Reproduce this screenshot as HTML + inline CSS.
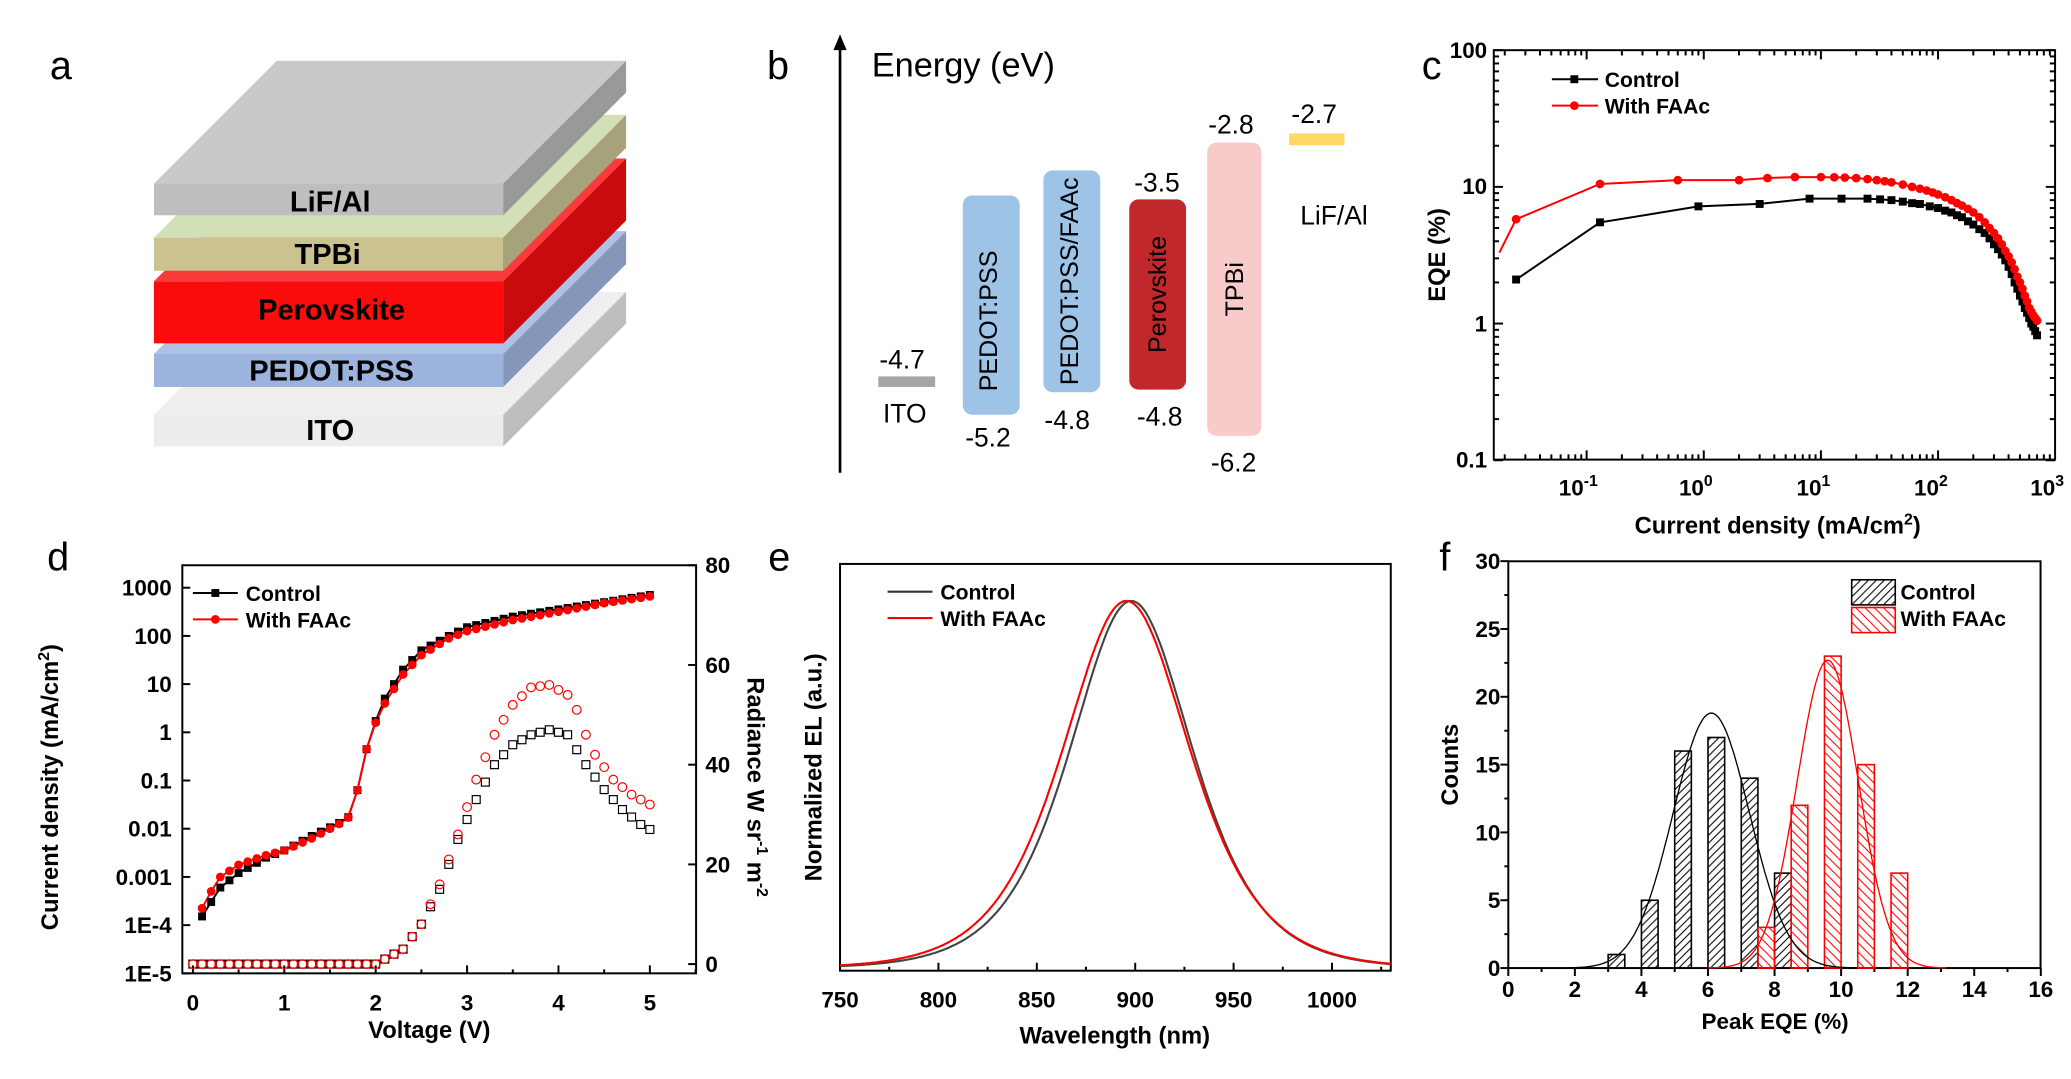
<!DOCTYPE html>
<html><head><meta charset="utf-8"><style>
html,body{margin:0;padding:0;background:#fff;width:2071px;height:1079px;overflow:hidden}
svg{display:block}
text{font-family:"Liberation Sans",Arial,sans-serif}
</style></head><body>
<svg id="s" width="2071" height="1079" viewBox="0 0 1568 817" xmlns="http://www.w3.org/2000/svg">
<defs>
<pattern id="hk" width="6" height="6" patternUnits="userSpaceOnUse"><path d="M-1,7 L7,-1 M-1,1 L1,-1 M5,7 L7,5" stroke="#000" stroke-width="0.8"/></pattern>
<pattern id="hr" width="7" height="7" patternUnits="userSpaceOnUse"><path d="M-1,-1 L8,8 M-1,6 L1,8 M6,-1 L8,1" stroke="#f00" stroke-width="0.8"/></pattern>
</defs>
<g id="g"></g>
</svg>
<script>
var S=document.getElementById('g'),out='';
function a(s){out+=s;}
function t(x,y,s,sz,opt){opt=opt||{};a('<text x="'+x+'" y="'+y+'" font-size="'+sz+'" text-anchor="'+(opt.anc||'middle')+'"'+(opt.b?' font-weight="bold"':'')+(opt.fill?' fill="'+opt.fill+'"':'')+(opt.tr?' transform="'+opt.tr+'"':'')+'>'+s+'</text>');}
function L(x1,y1,x2,y2,c,w){a('<line x1="'+x1+'" y1="'+y1+'" x2="'+x2+'" y2="'+y2+'" stroke="'+(c||'#000')+'" stroke-width="'+(w||1.5)+'"/>');}
function R(x,y,w,h,f,st,rx){a('<rect x="'+x+'" y="'+y+'" width="'+w+'" height="'+h+'" fill="'+f+'"'+(st?' stroke="'+st+'" stroke-width="1.2"':'')+(rx?' rx="'+rx+'"':'')+'/>');}
function P(pts,f,st){a('<polygon points="'+pts.map(p=>p.join(',')).join(' ')+'" fill="'+f+'"'+(st?' stroke="'+st+'"':'')+'/>');}
function PL(pts,c,w){a('<polyline points="'+pts.map(p=>p[0].toFixed(1)+','+p[1].toFixed(1)).join(' ')+'" fill="none" stroke="'+c+'" stroke-width="'+(w||1.5)+'"/>');}
// panel letters
t(46,60,'a',30);t(589,60,'b',30);t(1084,60,'c',30);t(44,432,'d',30);t(590,432,'e',30);t(1094,432,'f',30);
// ---- panel a
var dx=93,dy=-93;
function slab(yt,yb,top,front,side){
 P([[116.5,yt],[381,yt],[381+dx,yt+dy],[116.5+dx,yt+dy]],top);
 R(116.5,yt,264.5,yb-yt,front);
 P([[381,yt],[381+dx,yt+dy],[381+dx,yb+dy],[381,yb]],side);
}
slab(314,338,'#efefef','#ececec','#bebebe');
slab(268,293,'#aec1e5','#9cb3de','#8497bb');
slab(213,260,'#f83a3a','#fa0c0c','#c80c0c');
slab(180,205,'#d3dfb6','#cbc28f','#a8a27a');
slab(139,163,'#c9c9c9','#bebebe','#999999');
t(250,160,'LiF/Al',22,{b:1});t(248,200,'TPBi',22,{b:1});t(251,242,'Perovskite',22,{b:1});t(251,288,'PEDOT:PSS',22,{b:1});t(250,333,'ITO',22,{b:1});
// ---- panel b
L(636,358,636,34,'#000',2);P([[631,38],[636,26],[641,38]],'#000');
t(660,58,'Energy (eV)',26,{anc:'start'});
R(665,285,43,8,'#a6a6a6');t(683,279,'-4.7',20);t(685,320,'ITO',20);
R(729,148,43,166,'#9dc3e6',0,7);t(755,243,'PEDOT:PSS',19,{tr:'rotate(-90 755 243)'});t(748,338,'-5.2',20);
R(790,129,43,168,'#9dc3e6',0,7);t(816,213,'PEDOT:PSS/FAAc',19,{tr:'rotate(-90 816 213)'});t(808,325,'-4.8',20);
R(855,151,43,144,'#c0282c',0,7);t(883,223,'Perovskite',19,{tr:'rotate(-90 883 223)'});t(876,145,'-3.5',20);t(878,322,'-4.8',20);
R(914,108,41,222,'#f9caca',0,7);t(941,219,'TPBi',19,{tr:'rotate(-90 941 219)'});t(932,101,'-2.8',20);t(934,357,'-6.2',20);
R(976,101,42,9,'#ffd966');t(995,93,'-2.7',20);t(1010,170,'LiF/Al',20);
// ---- panel c
(function(){
var x0=1131,x1=1556,y0=38,y1=348;
var X=v=>1290+Math.log10(v)*88.7,Y=v=>245-Math.log10(v)*103.5;
for(var e=-2;e<=3;e++){for(var m=1;m<10;m++){var xx=X(m*Math.pow(10,e));if(xx<x0||xx>x1)continue;L(xx,y1,xx,y1-(m==1?7:4));L(xx,y0,xx,y0+(m==1?7:4));}}
for(var e=-1;e<=2;e++){for(var m=1;m<10;m++){var yy=Y(m*Math.pow(10,e));if(yy<y0-0.5)continue;L(x0,yy,x0+(m==1?7:4),yy);L(x1,yy,x1-(m==1?7:4),yy);}}
a('<rect x="'+x0+'" y="'+y0+'" width="'+(x1-x0)+'" height="'+(y1-y0)+'" fill="none" stroke="#000" stroke-width="1.5"/>');
[['0.1',348],['1',245],['10',141],['100',38]].forEach(p=>t(1126,p[1]+6,p[0],17,{anc:'end',b:1}));
[[-1,1201],[0,1290],[1,1379],[2,1468],[3,1556]].forEach(p=>{a('<text x="'+(p[1]-6)+'" y="375" font-size="17" text-anchor="middle" font-weight="bold">10<tspan dy="-7" font-size="12">'+p[0]+'</tspan></text>');});
a('<text x="1346" y="404" font-size="18" font-weight="bold" text-anchor="middle">Current density (mA/cm<tspan dy="-7" font-size="12">2</tspan><tspan dy="7">)</tspan></text>');
t(1094,193,'EQE (%)',18,{b:1,tr:'rotate(-90 1094 193)'});
var c=[[0.025,2.1],[0.13,5.5],[0.9,7.2],[3,7.5],[8,8.2],[15,8.2],[25,8.2],[32,8.1],[40,8.0],[50,7.8],[60,7.6],[70,7.5],[85,7.2],[100,7.0],[115,6.7],[130,6.5],[145,6.2],[160,6],[180,5.6],[200,5.3],[225,4.9],[250,4.6],[275,4.2],[300,3.8],[325,3.5],[350,3.2],[375,2.9],[400,2.6],[425,2.3],[450,2.0],[475,1.8],[500,1.6],[525,1.45],[550,1.3],[575,1.2],[600,1.1],[625,1.0],[650,0.95],[675,0.88],[700,0.82]];
var f=[[0.018,3.3],[0.025,5.8],[0.13,10.5],[0.6,11.2],[2,11.2],[3.5,11.6],[6,11.8],[10,11.8],[13,11.75],[16,11.7],[20,11.6],[25,11.4],[30,11.2],[35,11.0],[40,10.8],[50,10.4],[60,10],[70,9.7],[80,9.4],[90,9.1],[100,8.8],[115,8.4],[130,8],[145,7.6],[160,7.3],[180,6.9],[200,6.5],[225,6.0],[250,5.5],[275,5.0],[300,4.6],[325,4.2],[350,3.8],[375,3.4],[400,3.1],[425,2.8],[450,2.5],[475,2.2],[500,2.0],[525,1.8],[550,1.6],[575,1.45],[600,1.3],[625,1.22],[650,1.15],[675,1.1],[700,1.05]];
PL(c.map(p=>[X(p[0]),Y(p[1])]),'#000');c.forEach(p=>R(X(p[0])-3,Y(p[1])-3,6,6,'#000'));
PL(f.map(p=>[X(p[0]),Y(p[1])]),'#f00');f.slice(1).forEach(p=>a('<circle cx="'+X(p[0])+'" cy="'+Y(p[1])+'" r="3.3" fill="#f00"/>'));
L(1175,60,1210,60);R(1189,57,6,6,'#000');t(1215,66,'Control',16,{anc:'start',b:1});
L(1175,80,1210,80,'#f00');a('<circle cx="1192" cy="80" r="3.3" fill="#f00"/>');t(1215,86,'With FAAc',16,{anc:'start',b:1});
})();
// ---- panel d
(function(){
var x0=138,x1=527,y0=428,y1=737;
var X=v=>146+v*69.2,YR=r=>730-r*3.775;
a('<rect x="'+x0+'" y="'+y0+'" width="'+(x1-x0)+'" height="'+(y1-y0)+'" fill="none" stroke="#000" stroke-width="1.5"/>');
var lab=['1E-5','1E-4','0.001','0.01','0.1','1','10','100','1000'];
for(var i=0;i<9;i++){var yy=737-i*36.5;L(x0,yy,x0+6,yy);t(130,yy+6,lab[i],17,{anc:'end',b:1});}
for(var v=0;v<=5;v++){L(X(v),y1,X(v),y1-6);L(X(v+0.5),y1,X(v+0.5),y1-3);t(X(v),765,v,17,{b:1});}
for(var r=0;r<=80;r+=20){L(x1,YR(r),x1-6,YR(r));t(534,YR(r)+6,r,17,{anc:'start',b:1});}
t(325,786,'Voltage (V)',18,{b:1});
a('<text transform="rotate(-90 44 596)" x="44" y="596" font-size="18" font-weight="bold" text-anchor="middle">Current density (mA/cm<tspan dy="-7" font-size="12">2</tspan><tspan dy="7">)</tspan></text>');
a('<text transform="rotate(90 566 596)" x="566" y="596" font-size="18" font-weight="bold" text-anchor="middle">Radiance W sr<tspan dy="-7" font-size="12">-1</tspan><tspan dy="7"> m</tspan><tspan dy="-7" font-size="12">-2</tspan></text>');
function interp(pts,v){for(var i=0;i<pts.length-1;i++){if(v>=pts[i][0]&&v<=pts[i+1][0]){var s=(v-pts[i][0])/(pts[i+1][0]-pts[i][0]);return pts[i][1]+s*(pts[i+1][1]-pts[i][1]);}}return pts[pts.length-1][1];}
var jc=[[0.1,-3.82],[0.2,-3.52],[0.3,-3.22],[0.5,-2.92],[0.8,-2.6],[1,-2.45],[1.3,-2.15],[1.6,-1.88],[1.75,-1.7],[1.85,-0.7],[1.95,0],[2.1,0.7],[2.3,1.3],[2.5,1.7],[2.8,2],[3,2.18],[3.5,2.4],[4,2.55],[4.5,2.7],[5,2.85]];
var jf=[[0.1,-3.65],[0.2,-3.3],[0.3,-3.0],[0.5,-2.75],[0.8,-2.55],[1,-2.45],[1.3,-2.2],[1.6,-1.9],[1.75,-1.7],[1.85,-0.7],[1.95,0],[2.1,0.6],[2.3,1.2],[2.5,1.6],[2.8,1.95],[3,2.1],[3.5,2.33],[4,2.5],[4.5,2.68],[5,2.82]];
var rc=[[0,0],[2,0],[2.1,1],[2.3,3],[2.5,8],[2.7,15],[2.9,25],[3.1,33],[3.3,40],[3.5,44],[3.7,46],[3.9,47],[4.1,46],[4.2,43],[4.3,40],[4.5,35],[4.7,31],[4.9,28],[5,27]];
var rf=[[0,0],[2,0],[2.1,1],[2.3,3],[2.5,8],[2.7,16],[2.9,26],[3.1,37],[3.3,46],[3.5,52],[3.7,55.5],[3.9,56],[4.1,54],[4.2,51],[4.3,46],[4.4,42],[4.6,37],[4.8,34],[5,32]];
var pc=[],pf=[];
for(var k=0;k<=50;k++){var v=k/10;
 a('<rect x="'+(X(v)-3)+'" y="'+(YR(interp(rc,v))-3)+'" width="6" height="6" fill="none" stroke="#000" stroke-width="0.9"/>');
 a('<circle cx="'+X(v)+'" cy="'+YR(interp(rf,v))+'" r="3.3" fill="none" stroke="#f00" stroke-width="0.9"/>');
 if(k>=1){pc.push([X(v),737-(interp(jc,v)+5)*36.5]);pf.push([X(v),737-(interp(jf,v)+5)*36.5]);}}
PL(pc,'#000');PL(pf,'#f00');
pc.forEach(p=>R(p[0]-3,p[1]-3,6,6,'#000'));pf.forEach(p=>a('<circle cx="'+p[0]+'" cy="'+p[1]+'" r="3.3" fill="#f00"/>'));
L(146,449,180,449);R(160,446,6,6,'#000');t(186,455,'Control',16,{anc:'start',b:1});
L(146,469,180,469,'#f00');a('<circle cx="163" cy="469" r="3.3" fill="#f00"/>');t(186,475,'With FAAc',16,{anc:'start',b:1});
})();
// ---- panel e
(function(){
var x0=636,x1=1053,y0=427,y1=735;
var X=v=>636+(v-750)*1.49;
a('<rect x="'+x0+'" y="'+y0+'" width="'+(x1-x0)+'" height="'+(y1-y0)+'" fill="none" stroke="#000" stroke-width="1.5"/>');
for(var v=750;v<=1025;v+=25){var xx=X(v);L(xx,y1,xx,y1-(v%50==0?6:3));}
[750,800,850,900,950,1000].forEach(v=>t(X(v),763,v,17,{b:1}));
t(844,790,'Wavelength (nm)',18,{b:1});
t(622,581,'Normalized EL (a.u.)',18,{b:1,tr:'rotate(-90 622 581)'});
function cur(pk,w,c){var p=[];for(var v=750;v<=1030;v+=1){var z=(v-pk)/w;var val=Math.pow(1/Math.cosh(z),1.5);p.push([X(v),733-val*278]);}PL(p,c,1.6);}
cur(898,35.5,'#444');cur(895.5,36.8,'#f00');
L(672,448,706,448,'#333',1.6);t(712,454,'Control',16,{anc:'start',b:1});
L(672,468,706,468,'#f00',1.6);t(712,474,'With FAAc',16,{anc:'start',b:1});
})();
// ---- panel f
(function(){
var x0=1142,x1=1545,y0=425,y1=733;
var X=v=>1142+v*25.2,Y=c=>733-c*10.27;
a('<rect x="'+x0+'" y="'+y0+'" width="'+(x1-x0)+'" height="'+(y1-y0)+'" fill="none" stroke="#000" stroke-width="1.5"/>');
for(var v=0;v<=16;v+=1){L(X(v),y1,X(v),y1+(v%2==0?6:3));}
for(var v=0;v<=16;v+=2)t(X(v),755,v,17,{b:1});
for(var c=0;c<=30;c+=5){L(x0,Y(c),x0-6,Y(c));t(1136,Y(c)+6,c,17,{anc:'end',b:1});}
for(var c=2.5;c<30;c+=5)L(x0,Y(c),x0-3,Y(c));
t(1344,779,'Peak EQE (%)',17,{b:1});
t(1104,579,'Counts',18,{b:1,tr:'rotate(-90 1104 579)'});
[[3,1],[4,5],[5,16],[6,17],[7,14],[8,7]].forEach(b=>{R(X(b[0]),Y(b[1]),12.6,b[1]*10.27,'url(#hk)','#000');});
[[7.5,3],[8.5,12],[9.5,23],[10.5,15],[11.5,7]].forEach(b=>{R(X(b[0]),Y(b[1]),12.6,b[1]*10.27,'url(#hr)','#f00');});
function g(m,h,s,a0,b0,c){var p=[];for(var v=a0;v<=b0;v+=0.05)p.push([X(v),Y(h*Math.exp(-(v-m)*(v-m)/(2*s*s)))]);PL(p,c,1);}
g(6.1,18.8,1.15,1.8,10.5,'#000');g(9.6,22.7,0.92,6,13.2,'#f00');
R(1402,439,33,19,'url(#hk)','#000');t(1439,454,'Control',16,{anc:'start',b:1});
R(1402,460,33,19,'url(#hr)','#f00');t(1439,474,'With FAAc',16,{anc:'start',b:1});
})();
S.innerHTML=out;
</script>
</body></html>
